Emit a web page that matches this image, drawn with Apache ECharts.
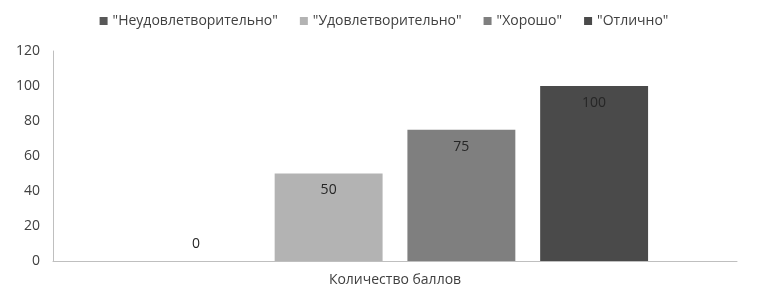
<!DOCTYPE html>
<html><head><meta charset="utf-8">
<script src="https://cdn.jsdelivr.net/npm/echarts@6/dist/echarts.min.js"></script>
<style>html,body{margin:0;padding:0;background:#fff}#c{width:768px;height:303px}</style>
</head><body><div id="c"></div>
<script>
const categories = ['Количество баллов'];
const seriesNames = ['"Неудовлетворительно"', '"Удовлетворительно"', '"Хорошо"', '"Отлично"'];
const seriesValues = [[0], [50], [75], [100]];
const yTicks = [0, 20, 40, 60, 80, 100, 120];
const colors = ['#585858', '#b3b3b3', '#7f7f7f', '#4a4a4a'];
const font = 'Open Sans';
const chart = echarts.init(document.getElementById('c'), null, {renderer: 'canvas'});
chart.setOption({
  animation: false,
  textStyle: {fontFamily: font},
  color: colors,
  legend: {
    top: 9, left: 'center', itemWidth: 8, itemHeight: 8, itemGap: 22, icon: 'rect',
    textStyle: {fontFamily: font, fontSize: 14, color: '#404040'},
    data: seriesNames
  },
  grid: {left: 53, right: 31, top: 51, bottom: 42},
  xAxis: {
    type: 'category', data: categories,
    axisLine: {lineStyle: {color: '#bfbfbf'}}, axisTick: {show: false},
    axisLabel: {fontFamily: font, fontSize: 14, color: '#404040', margin: 12}
  },
  yAxis: {
    type: 'value', min: yTicks[0], max: yTicks[yTicks.length - 1], interval: 20,
    axisLine: {show: true, lineStyle: {color: '#bfbfbf'}}, axisTick: {show: false},
    splitLine: {show: false},
    axisLabel: {fontFamily: font, fontSize: 14, color: '#404040', margin: 13}
  },
  series: seriesNames.map((n, i) => ({
    name: n, type: 'bar', data: seriesValues[i],
    barGap: '23%', barCategoryGap: '26%',
    itemStyle: {color: colors[i]},
    label: {
      show: true, position: seriesValues[i][0] === 0 ? 'top' : 'insideTop',
      distance: 10, fontFamily: font, fontSize: 14, color: '#262626'
    }
  }))
});
</script></body></html>
